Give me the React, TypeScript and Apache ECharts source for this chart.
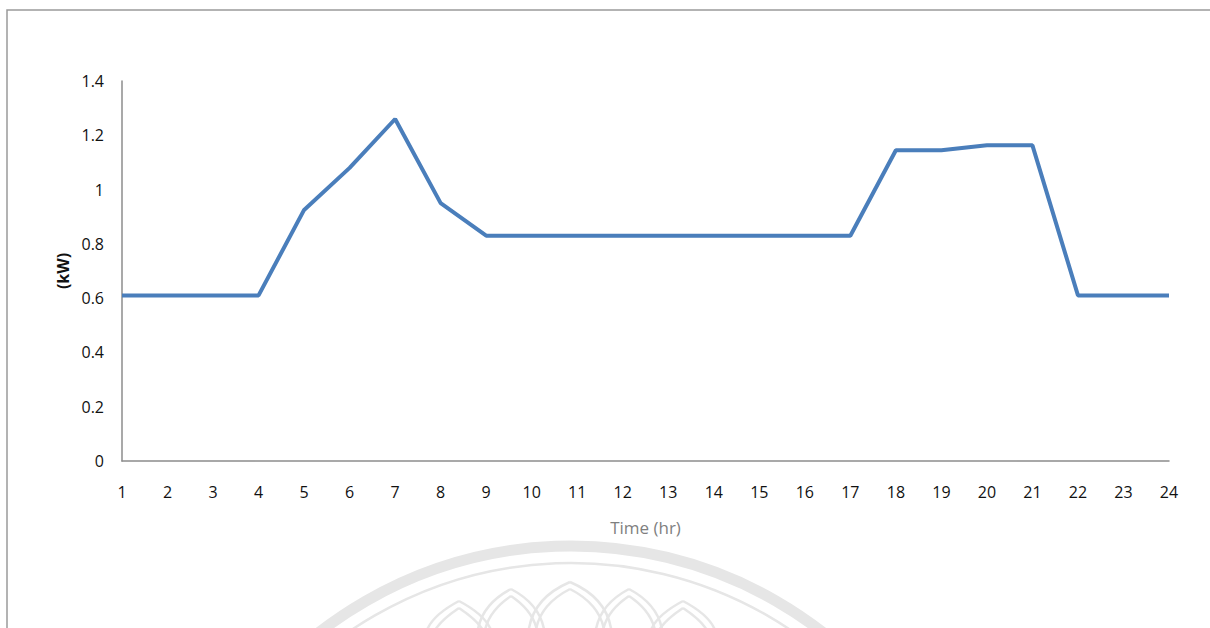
import React, { useEffect, useRef } from "react";
import * as echarts from "echarts";

// Hourly load profile
const hours: string[] = [
  "1", "2", "3", "4", "5", "6", "7", "8", "9", "10", "11", "12",
  "13", "14", "15", "16", "17", "18", "19", "20", "21", "22", "23", "24",
];
const loadKW: number[] = [
  0.61, 0.61, 0.61, 0.61, 0.925, 1.08, 1.26, 0.95, 0.83, 0.83, 0.83, 0.83,
  0.83, 0.83, 0.83, 0.83, 0.83, 1.145, 1.145, 1.163, 1.163, 0.61, 0.61, 0.61,
];
const yTicks = { min: 0, max: 1.4, interval: 0.2 };

const FONT = "'Liberation Sans Narrow', 'Open Sans', sans-serif";
const WM = "#e6e6e6";

// Faint seal artwork in the lower part of the page
function sealGraphics(): any[] {
  const cx = 571;
  const els: any[] = [
    {
      type: "circle",
      silent: true,
      shape: { cx, cy: 956, r: 410 },
      style: { fill: "none", stroke: WM, lineWidth: 11 },
    },
    {
      type: "circle",
      silent: true,
      shape: { cx, cy: 956, r: 393 },
      style: { fill: "none", stroke: WM, lineWidth: 2.5 },
    },
  ];
  const petals = [
    { tx: 570, ty: 582, half: 42 },
    { tx: 511, ty: 589, half: 34 },
    { tx: 629, ty: 589, half: 34 },
    { tx: 459, ty: 601, half: 34 },
    { tx: 683, ty: 601, half: 34 },
  ];
  petals.forEach((p) => {
    [0, 7].forEach((inset) => {
      const ty = p.ty + inset;
      const h = p.half - inset;
      els.push({
        type: "bezierCurve",
        silent: true,
        shape: { x1: p.tx - h, y1: 640, cpx1: p.tx - h, cpy1: ty + 18, x2: p.tx, y2: ty },
        style: { fill: "none", stroke: WM, lineWidth: 2.5 },
      });
      els.push({
        type: "bezierCurve",
        silent: true,
        shape: { x1: p.tx + h, y1: 640, cpx1: p.tx + h, cpy1: ty + 18, x2: p.tx, y2: ty },
        style: { fill: "none", stroke: WM, lineWidth: 2.5 },
      });
    });
  });
  return els;
}

export default function App() {
  const ref = useRef<HTMLDivElement>(null);

  useEffect(() => {
    if (!ref.current) return;
    const chart = echarts.init(ref.current, null, { renderer: "svg" });
    chart.setOption({
      animation: false,
      backgroundColor: "#ffffff",
      grid: { left: 122, right: 41, top: 81, bottom: 167, containLabel: false },
      graphic: [
        ...sealGraphics(),
        {
          type: "rect",
          silent: true,
          shape: { x: 7, y: 10, width: 1400, height: 800 },
          style: { fill: "none", stroke: "#9a9a9a", lineWidth: 1.5 },
        },
      ],
      xAxis: {
        type: "category",
        data: hours,
        boundaryGap: false,
        name: "Time (hr)",
        nameLocation: "middle",
        nameGap: 58,
        nameTextStyle: { color: "#7f7f7f", fontSize: 17, fontFamily: FONT },
        axisLine: { lineStyle: { color: "#8c8c8c", width: 1.5 } },
        axisTick: { show: false },
        axisLabel: {
          color: "#111111",
          fontSize: 16,
          fontFamily: FONT,
          margin: 23,
          interval: 0,
        },
        splitLine: { show: false },
      },
      yAxis: {
        type: "value",
        min: yTicks.min,
        max: yTicks.max,
        interval: yTicks.interval,
        name: "(kW)",
        nameLocation: "middle",
        nameGap: 46,
        nameRotate: 90,
        nameTextStyle: { color: "#111111", fontSize: 16, fontWeight: "bold", fontFamily: FONT },
        axisLine: { show: true, lineStyle: { color: "#8c8c8c", width: 1.5 } },
        axisTick: { show: false },
        axisLabel: {
          color: "#111111",
          fontSize: 16,
          fontFamily: FONT,
          margin: 18,
          padding: [8, 0, 0, 0],
          formatter: (v: number) => String(Math.round(v * 10) / 10),
        },
        splitLine: { show: false },
      },
      series: [
        {
          type: "line",
          data: loadKW,
          symbol: "none",
          lineStyle: { color: "#4a7ebb", width: 4 },
          itemStyle: { color: "#4a7ebb" },
        },
      ],
    });
    return () => chart.dispose();
  }, []);

  return (
    <div
      ref={ref}
      style={{ position: "fixed", left: 0, top: 0, width: 1210, height: 628, background: "#fff" }}
    />
  );
}
